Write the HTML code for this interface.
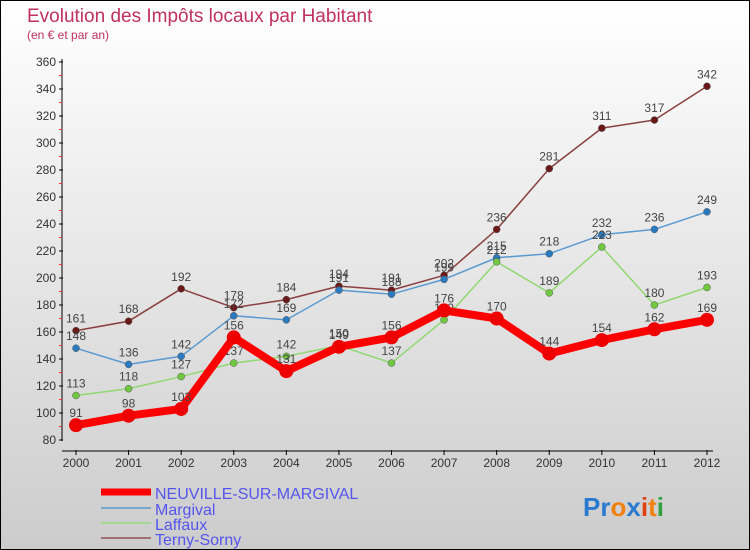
<!DOCTYPE html>
<html><head><meta charset="utf-8"><style>
body{margin:0;}
#c{width:748px;height:548px;border:1px solid #000;background:linear-gradient(#fff,#ccc);position:relative;overflow:hidden;font-family:"Liberation Sans",sans-serif;}
</style></head><body>
<div id="c">
<svg id="s" width="748" height="548" xmlns="http://www.w3.org/2000/svg">
<text x="26" y="21" font-size="19" fill="#c03060">Evolution des Impôts locaux par Habitant</text>
<text x="26" y="38" font-size="12" fill="#c03060">(en € et par an)</text>
<g id="ax"></g><g id="ser"></g>
<g>
<line x1="100" y1="491" x2="150" y2="491" stroke="#f00" stroke-width="7"/>
<text x="154" y="498" font-size="16" fill="#5555ee">NEUVILLE-SUR-MARGIVAL</text>
<line x1="100" y1="507" x2="150" y2="507" stroke="#7aa8cc" stroke-width="2"/>
<text x="154" y="514" font-size="16" fill="#5555ee">Margival</text>
<line x1="100" y1="522" x2="150" y2="522" stroke="#a0d890" stroke-width="2"/>
<text x="154" y="529" font-size="16" fill="#5555ee">Laffaux</text>
<line x1="100" y1="537" x2="150" y2="537" stroke="#a07070" stroke-width="2"/>
<text x="154" y="544" font-size="16" fill="#5555ee">Terny-Sorny</text>
</g>
<text x="582" y="515" font-size="26" font-weight="bold"><tspan fill="#2a7ad0">Pr</tspan><tspan fill="#f08010">o</tspan><tspan fill="#2a7ad0">x</tspan><tspan fill="#e04010">i</tspan><tspan fill="#f08010">t</tspan><tspan fill="#30a040">i</tspan></text>
</svg></div>
<script>
const years=[2000,2001,2002,2003,2004,2005,2006,2007,2008,2009,2010,2011,2012];
const neuville=[91,98,103,156,131,149,156,176,170,144,154,162,169];
const margival=[148,136,142,172,169,191,188,199,215,218,232,236,249];
const laffaux=[113,118,127,137,142,150,137,169,212,189,223,180,193];
const terny=[161,168,192,178,184,194,191,202,236,281,311,317,342];
const yTicks=[80,100,120,140,160,180,200,220,240,260,280,300,320,340,360];
const NS="http://www.w3.org/2000/svg";
const x=i=>75+i*(706-75)/12;
const y=v=>439-(v-80)*1.35;
function mk(t,a,p){const e=document.createElementNS(NS,t);for(const k in a)e.setAttribute(k,a[k]);p.appendChild(e);return e;}
const ax=document.getElementById('ax'),ser=document.getElementById('ser');
let l=mk('line',{x1:61,y1:58,x2:61,y2:440,stroke:'#000','stroke-width':1},ax);


l=mk('line',{x1:61,y1:450,x2:712,y2:450,stroke:'#000','stroke-width':1},ax);


yTicks.forEach(v=>{
 mk('line',{x1:58,y1:y(v),x2:62,y2:y(v),stroke:'#000'},ax);
 if(v<360)mk('line',{x1:58,y1:y(v+10),x2:61,y2:y(v+10),stroke:'#f33'},ax);
 const t=mk('text',{x:55,y:y(v)+4,'font-size':12,fill:'#333','text-anchor':'end'},ax);t.textContent=v;
 
 
});
years.forEach((yr,i)=>{
 mk('line',{x1:x(i),y1:449,x2:x(i),y2:454,stroke:'#000'},ax);
 const t=mk('text',{x:x(i),y:466,'font-size':12,fill:'#333','text-anchor':'middle'},ax);t.textContent=yr;
 
 
});
function series(d,name,lc,dc,w,r){
 const g=mk('g',{},ser);
 
 
 const p=mk('polyline',{points:d.map((v,i)=>x(i)+','+y(v)).join(' '),fill:'none',stroke:lc,'stroke-width':w,'stroke-linejoin':'round'},g);
 
 
 d.forEach((v,i)=>{
  const c=mk('circle',{cx:x(i),cy:y(v),r:r,fill:dc,stroke:'#555','stroke-width':r>5?0:0.5},g);
  
  
  const t=mk('text',{x:x(i),y:y(v)-8,'font-size':12,fill:'#444','text-anchor':'middle'},g);t.textContent=v;
  
  
 });
}
series(terny,'terny-sorny','#8a4040','#6a1818',1.5,3.5);
series(margival,'margival','#5a9ad0','#2a7ac0',1.5,3.5);
series(laffaux,'laffaux','#90d870','#70c840',1.5,3.5);
series(neuville,'neuville','#f00','#e00',8,7);
</script>
</body></html>
